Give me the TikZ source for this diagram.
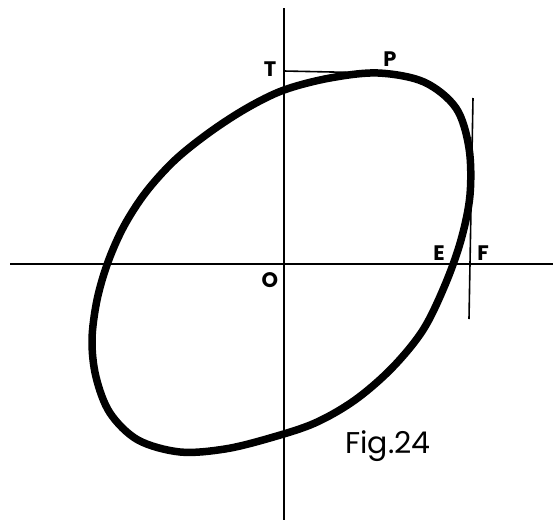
\documentclass[tikz,border=0pt]{standalone}
\usepackage{fontspec}
\setmainfont{Poppins}
\begin{document}
\begin{tikzpicture}[x=1pt,y=-1pt,
  axis/.style={line width=1.6pt,black},
  curve/.style={line width=7.5pt,black,line join=round},
  lbl/.style={font=\fontsize{21}{21}\selectfont\bfseries,inner sep=0pt},
  figcap/.style={font=\fontsize{30}{30}\selectfont,inner sep=0pt}]
\useasboundingbox (0,0) rectangle (558,523);
% axes
\coordinate (xl) at (10,264);
\coordinate (xr) at (553,264);
\coordinate (yt) at (284,8);
\coordinate (yb) at (284,520);
\draw[axis] (xl) -- (xr);
\draw[axis] (yt) -- (yb);
% tangents
\coordinate (Tp) at (284,71);
\coordinate (Pp) at (380,73);
\draw[axis] (Tp) -- (Pp);
\coordinate (Ft) at (473,98);
\coordinate (Fb) at (469,319);
\draw[axis] (Ft) -- (Fb);
% curve
\draw[curve] plot[smooth cycle, tension=0.55] coordinates {
 (284,90) (330,78) (378,73) (424,82) (456,108) (469,148) (470,195)
 (461,240) (445,285) (423,330) (392,368) (355,400) (315,423) (270,438)
 (225,449) (180,452) (138,440) (110,413) (96,377) (92,340) (97,300)
 (108,262) (124,226) (146,192) (175,160) (210,132) (247,108)};
% labels
\node[lbl] (T) at (270,69) {T};
\node[lbl] (P) at (390,59) {P};
\node[lbl] (E) at (439,253) {E};
\node[lbl] (F) at (483,253) {F};
\node[lbl] (O) at (270,280) {O};
\node[figcap] (fig) at (388,446) {Fig.24};
\end{tikzpicture}
\end{document}
